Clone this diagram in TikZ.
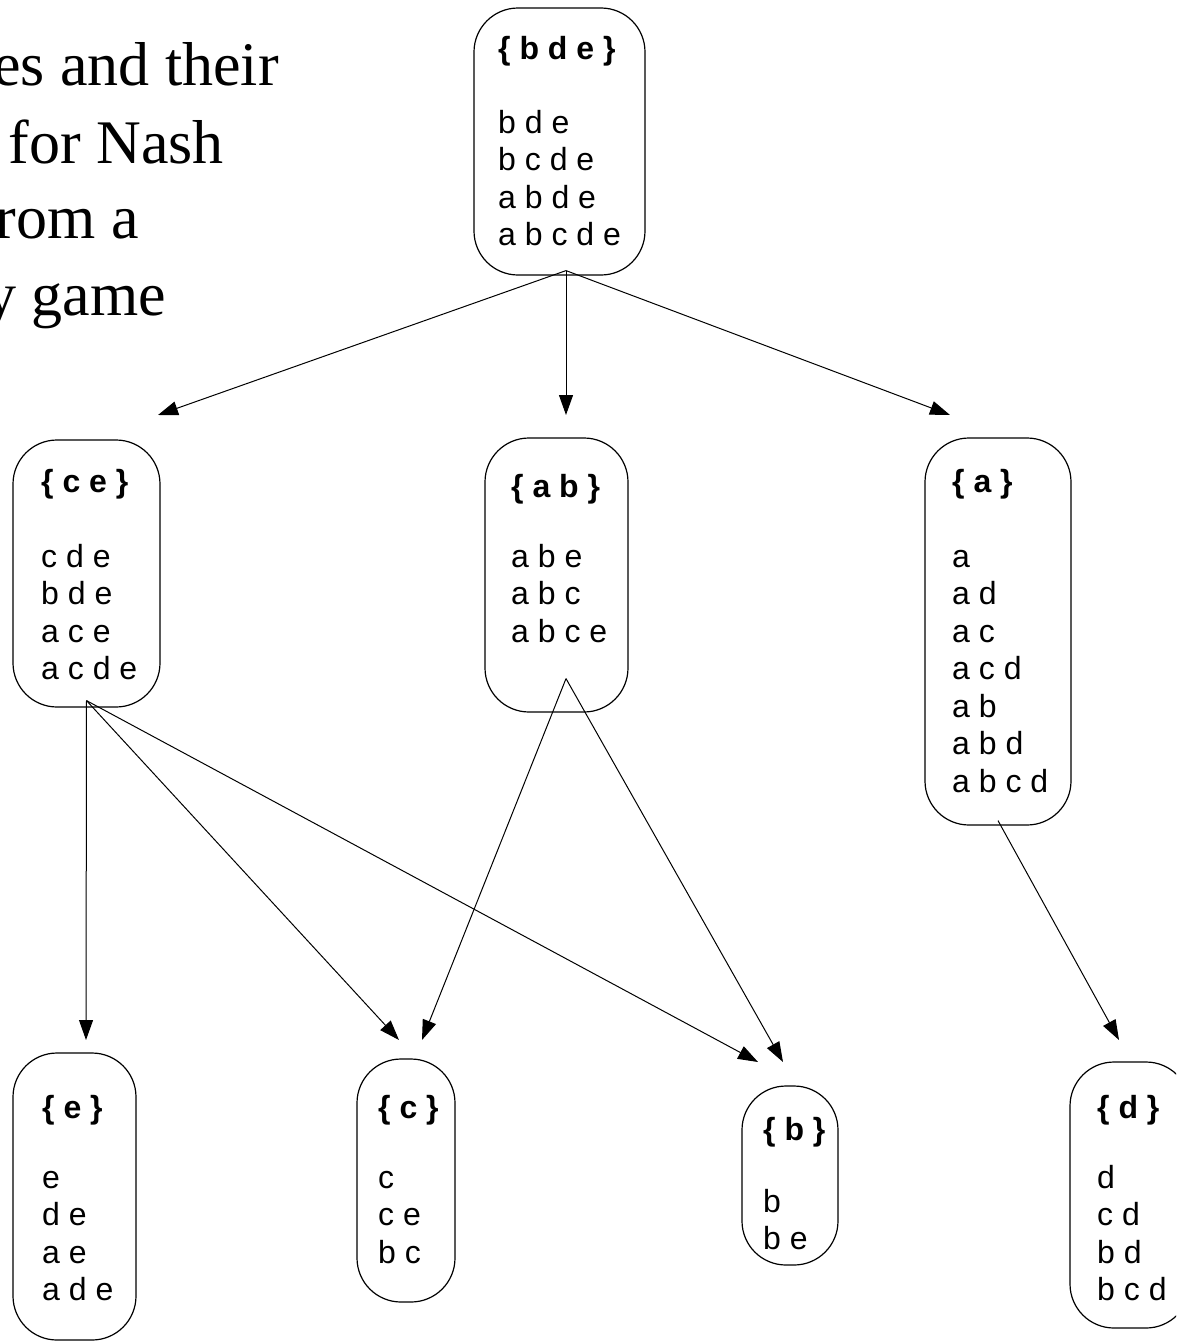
\documentclass[tikz,border=0pt]{standalone}
\usepackage{fontspec}
\setmainfont{Liberation Sans}
\newfontfamily\headfont{Liberation Serif}
\usetikzlibrary{arrows.meta}

\begin{document}
\begin{tikzpicture}[x=1pt,y=-1pt,
  setbox/.style={draw, line width=1.2pt, rounded corners=44pt, inner sep=0pt},
  % entries are placed by the baseline of their last line
  entries/.style={anchor=base west, inner sep=0pt, align=left,
                  font=\fontsize{32}{37.5}\selectfont},
  link/.style={line width=1pt, -{Triangle[length=20pt,width=14pt]}},
  heading/.style={anchor=base east, inner sep=0pt,
                  font=\headfont\fontsize{62}{77}\selectfont}]
\useasboundingbox (0,0) rectangle (1176,1341);
\clip (0,0) rectangle (1176,1341);

% heading lines
\node[heading] (h1) at (279,85)  {es and their};
\node[heading] (h2) at (224,163) {for Nash};
\node[heading] (h3) at (139,238) {rom a};
\node[heading] (h4) at (166,315) {y game};

% set boxes
\node[setbox, minimum width=171pt, minimum height=267pt] (bde) at (559.5,141.5) {};
\node[setbox, minimum width=147pt, minimum height=267pt] (ce)  at (86.5,573.5) {};
\node[setbox, minimum width=143pt, minimum height=274pt] (ab)  at (556.5,575) {};
\node[setbox, minimum width=146pt, minimum height=387pt] (a)   at (998,631.5) {};
\node[setbox, minimum width=123pt, minimum height=287pt] (e)   at (74.5,1196.5) {};
\node[setbox, minimum width=98pt,  minimum height=243pt] (c)   at (406,1180.5) {};
\node[setbox, minimum width=96pt,  minimum height=179pt] (b)   at (790,1175.5) {};
\node[setbox, minimum width=120pt, minimum height=266pt] (d)   at (1130,1195) {};

% box contents
\node[entries] (bdeT) at (498,245.5)
  {\textbf{\{ b d e \}}\\[36.5pt] b d e\\ b c d e\\ a b d e\\ a b c d e};
\node[entries] (ceT) at (41,679.5)
  {\textbf{\{ c e \}}\\[37.5pt] c d e\\ b d e\\ a c e\\ a c d e};
\node[entries] (abT) at (511,642)
  {\textbf{\{ a b \}}\\[32.5pt] a b e\\ a b c\\ a b c e};
\node[entries] (aT) at (952,792)
  {\textbf{\{ a \}}\\[37.5pt] a\\ a d\\ a c\\ a c d\\ a b\\ a b d\\ a b c d};
\node[entries] (eT) at (42,1300.5)
  {\textbf{\{ e \}}\\[32.5pt] e\\ d e\\ a e\\ a d e};
\node[entries] (cT) at (378,1263)
  {\textbf{\{ c \}}\\[32.5pt] c\\ c e\\ b c};
\node[entries] (bT) at (763,1249.5)
  {\textbf{\{ b \}}\\[34.5pt] b\\ b e};
\node[entries] (dT) at (1097,1300.5)
  {\textbf{\{ d \}}\\[32.5pt] d\\ c d\\ b d\\ b c d};

% points where the connectors leave a box
\coordinate (bdeOut) at ([shift={(6.5,-5)}]bde.south);
\coordinate (ceOut)  at ([shift={(0,-7)}]ce.south);
\coordinate (abOut)  at ([shift={(9.5,-34)}]ab.south);
\coordinate (aOut)   at ([shift={(0,-5)}]a.south);

% arrow tips, just above the target boxes
\coordinate (toCe)  at (158,415);
\coordinate (toAb)  at (566,415);
\coordinate (toA)   at (950,415);
\coordinate (toE)   at (86,1040);
\coordinate (toC1)  at (399,1040);
\coordinate (toC2)  at (422,1040);
\coordinate (toB1)  at (758,1062);
\coordinate (toB2)  at (783,1062);
\coordinate (toD)   at (1119,1040);

% connectors
\draw[link] (bdeOut) -- (toCe);
\draw[link] (bdeOut) -- (toAb);
\draw[link] (bdeOut) -- (toA);
\draw[link] (ceOut) -- (toE);
\draw[link] (ceOut) -- (toC1);
\draw[link] (ceOut) -- (toB1);
\draw[link] (abOut) -- (toC2);
\draw[link] (abOut) -- (toB2);
\draw[link] (aOut) -- (toD);
\end{tikzpicture}
\end{document}
